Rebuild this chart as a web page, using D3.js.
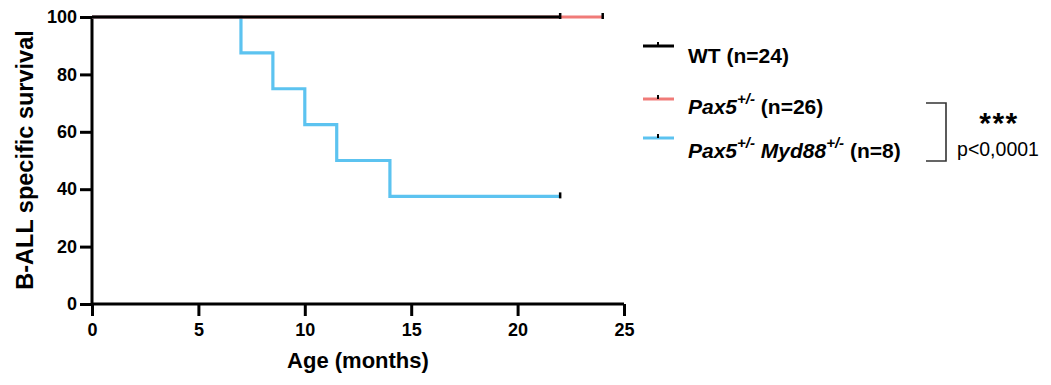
<!DOCTYPE html>
<html>
<head>
<meta charset="utf-8">
<script src="https://cdn.jsdelivr.net/npm/d3@7"></script>
<style>
  html, body { margin: 0; padding: 0; background: #fff; }
  svg { display: block; font-family: "Liberation Sans", Arial, Helvetica, sans-serif; }
</style>
</head>
<body>
<svg id="chart" width="1051" height="385"></svg>
<script>
// Kaplan-Meier steps: [time (months), survival %]
const wtSteps = [[0, 100], [22, 100]];
const pax5Steps = [[0, 100], [24, 100]];
const pax5Myd88Steps = [[0, 100], [7, 87.5], [8.5, 75], [10, 62.5], [11.5, 50], [14, 37.5], [22, 37.5]];

// Censored observations drawn as tick marks
const wtCensor = [[22, 100]];
const pax5Censor = [[24, 100]];
const pax5Myd88Censor = [[22, 37.5]];

const xTicks = [0, 5, 10, 15, 20, 25];
const yTicks = [0, 20, 40, 60, 80, 100];

const colWT = "#000000";
const colPax5 = "#f07b78";
const colPM = "#5cc3f0";

const svg = d3.select("#chart");
const x = d3.scaleLinear().domain([0, 25]).range([92, 624]);
const y = d3.scaleLinear().domain([0, 100]).range([304, 17]);

// Axes
const xAxis = svg.append("g")
  .attr("transform", `translate(0,${y(0)})`)
  .call(d3.axisBottom(x).tickValues(xTicks).tickSize(12).tickPadding(7).tickFormat(d3.format("d")));
const yAxis = svg.append("g")
  .attr("transform", `translate(${x(0)},0)`)
  .call(d3.axisLeft(y).tickValues(yTicks).tickSize(12).tickPadding(3).tickFormat(d3.format("d")));

[xAxis, yAxis].forEach(g => {
  g.select(".domain").attr("stroke", "#000").attr("stroke-width", 3);
  g.selectAll(".tick line").attr("stroke", "#000").attr("stroke-width", 3);
  g.selectAll(".tick text").attr("fill", "#000").style("font-size", "18px").style("font-weight", "bold")
    .style("font-family", "'Liberation Sans', Arial, sans-serif");
});
// plain axis lines without outer caps
xAxis.select(".domain").attr("d", `M${x(0)},0H${x(25)}`);
yAxis.select(".domain").attr("d", `M0,${y(0)}V${y(100)}`);

// Axis titles
svg.append("text")
  .attr("x", (x(0) + x(25)) / 2).attr("y", 368)
  .attr("text-anchor", "middle")
  .style("font-size", "22px").style("font-weight", "bold")
  .text("Age (months)");

svg.append("text")
  .attr("transform", `translate(33,160) rotate(-90)`)
  .attr("text-anchor", "middle")
  .style("font-size", "23.5px").style("font-weight", "bold")
  .text("B-ALL specific survival");

// Survival curves
const line = d3.line().x(d => x(d[0])).y(d => y(d[1])).curve(d3.curveStepAfter);

const series = [
  { steps: pax5Myd88Steps, censor: pax5Myd88Censor, color: colPM },
  { steps: pax5Steps, censor: pax5Censor, color: colPax5 },
  { steps: wtSteps, censor: wtCensor, color: colWT }
];

series.forEach(s => {
  svg.append("path")
    .datum(s.steps)
    .attr("d", line)
    .attr("fill", "none")
    .attr("stroke", s.color)
    .attr("stroke-width", 3.2);
  svg.selectAll(null)
    .data(s.censor)
    .enter().append("line")
    .attr("x1", d => x(d[0])).attr("x2", d => x(d[0]))
    .attr("y1", d => y(d[1]) - 4).attr("y2", d => y(d[1]) + 2)
    .attr("stroke", "#000").attr("stroke-width", 2.5);
});

// Legend
const legend = [
  { color: colWT, ly: 46, ty: 63, parts: [["WT (n=24)", "normal", false]] },
  { color: colPax5, ly: 99, ty: 114, parts: [["Pax5", "italic", false], ["+/-", "italic", true], [" (n=26)", "normal", false]] },
  { color: colPM, ly: 138, ty: 158, parts: [["Pax5", "italic", false], ["+/-", "italic", true], [" Myd88", "italic", false], ["+/-", "italic", true], [" (n=8)", "normal", false]] }
];

legend.forEach(item => {
  svg.append("line")
    .attr("x1", 643).attr("x2", 674).attr("y1", item.ly).attr("y2", item.ly)
    .attr("stroke", item.color).attr("stroke-width", 3);
  svg.append("line")
    .attr("x1", 658).attr("x2", 658).attr("y1", item.ly - 4).attr("y2", item.ly)
    .attr("stroke", "#000").attr("stroke-width", 2);
  const t = svg.append("text")
    .attr("x", 688).attr("y", item.ty)
    .style("font-size", "21px").style("font-weight", "bold");
  let raised = false;
  item.parts.forEach(p => {
    const ts = t.append("tspan").style("font-style", p[1]).text(p[0]);
    if (p[2]) { ts.style("font-size", "15px").attr("dy", -10); raised = true; }
    else if (raised) { ts.attr("dy", 10); raised = false; }
  });
});

// Significance bracket, stars and p-value
svg.append("path")
  .attr("d", "M926,103H946V161H926")
  .attr("fill", "none").attr("stroke", "#333").attr("stroke-width", 1.6);

svg.append("text")
  .attr("x", 999).attr("y", 133)
  .attr("text-anchor", "middle")
  .style("font-size", "30px").style("font-weight", "bold")
  .style("letter-spacing", "1.5px")
  .text("***");

svg.append("text")
  .attr("x", 998).attr("y", 156)
  .attr("text-anchor", "middle")
  .style("font-size", "19.5px")
  .text("p<0,0001");
</script>
</body>
</html>
